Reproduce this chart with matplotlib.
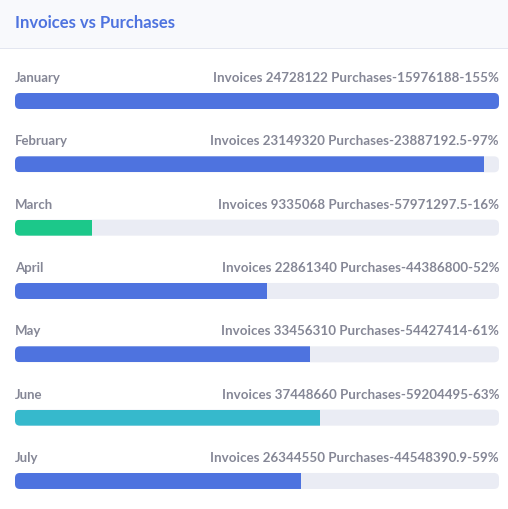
import matplotlib
matplotlib.use("Agg")
import matplotlib.pyplot as plt
from matplotlib.patches import FancyBboxPatch, Rectangle

months = ["January", "February", "March", "April", "May", "June", "July"]
invoices = [24728122, 23149320, 9335068, 22861340, 33456310, 37448660, 26344550]
purchases = [15976188, 23887192.5, 57971297.5, 44386800, 54427414, 59204495, 44548390.9]
percents = [155, 97, 16, 52, 61, 63, 59]
bar_colors = ["#4e73df", "#4e73df", "#1cc88a", "#4e73df", "#4e73df", "#36b9cc", "#4e73df"]

W, H = 508, 509
DPI = 100
FONT = ["Lato", "DejaVu Sans"]
TEXT = "#858796"

fig = plt.figure(figsize=(W / DPI, H / DPI), dpi=DPI)
fig.patch.set_facecolor("white")
fig.patches.append(Rectangle((0, 1 - 48 / H), 1, 48 / H, transform=fig.transFigure,
                             facecolor="#f8f9fc", edgecolor="none"))
fig.patches.append(Rectangle((0, 1 - 49 / H), 1, 1 / H, transform=fig.transFigure,
                             facecolor="#e3e6f0", edgecolor="none"))
fig.text(15 / W, 1 - 28 / H, "Invoices vs Purchases", color="#4e73df", fontsize=12,
         fontweight="bold", family=FONT, va="baseline", ha="left")

ax_top = 49
ax = fig.add_axes([15 / W, 0, 484 / W, (H - ax_top) / H])
row_px = 63.33
first_px = 101 - ax_top
ax.set_xlim(0, 100)
ax.set_ylim((H - ax_top - first_px) / row_px, -first_px / row_px)
ax.axis("off")

bar_h = 16 / row_px
px_x = 100 / 484
px_y = 1 / row_px
radius_px = 5


def fmt(v):
    return str(int(v)) if float(v).is_integer() else str(v)


for i, (m, inv, pur, pct, col) in enumerate(zip(months, invoices, purchases, percents, bar_colors)):
    track = FancyBboxPatch((0, i - bar_h / 2), 100, bar_h,
                           boxstyle=f"round,pad=0,rounding_size={radius_px * px_x}",
                           mutation_aspect=px_y / px_x, transform=ax.transData,
                           facecolor="#eaecf4", edgecolor="none")
    ax.add_patch(track)
    bars = ax.barh(i, min(pct, 100), height=bar_h, left=0, color=col, edgecolor="none")
    for b in bars:
        b.set_clip_path(track)
    ax.text(0, i - 0.30, m, ha="left", va="baseline", color=TEXT, fontsize=9.5,
            fontweight="bold", family=FONT)
    ax.text(100, i - 0.30, f"Invoices {fmt(inv)} Purchases-{fmt(pur)}-{pct}%",
            ha="right", va="baseline", color=TEXT, fontsize=9.6, fontweight="bold", family=FONT)

fig.savefig("out.png", dpi=DPI, facecolor="white")
